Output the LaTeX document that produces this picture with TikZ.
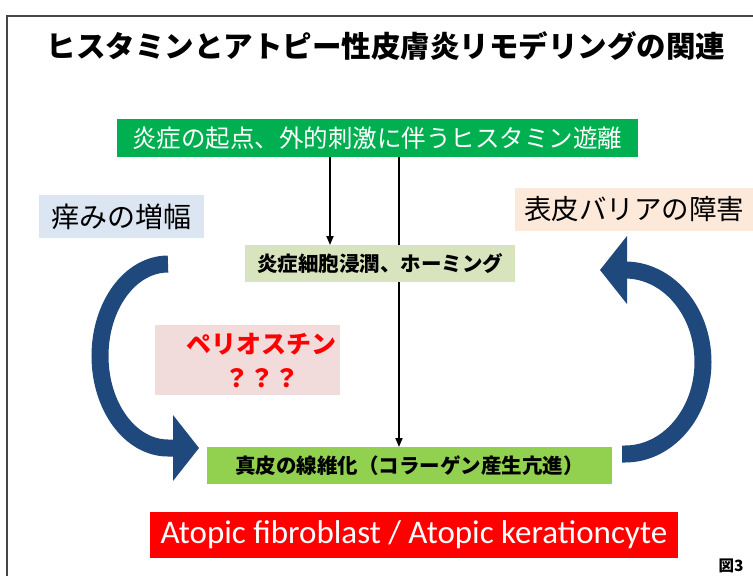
\documentclass[tikz,border=0pt]{standalone}
\usepackage{fontspec}
\setmainfont{Noto Sans CJK JP}
\newfontfamily\latinfont{Carlito}
\usetikzlibrary{arrows.meta,calc}
\definecolor{topgreen}{HTML}{00B050}
\definecolor{midgreen}{HTML}{D7E4BD}
\definecolor{botgreen}{HTML}{92D050}
\definecolor{lblue}{HTML}{DCE6F2}
\definecolor{lpeach}{HTML}{FDE9D9}
\definecolor{lpink}{HTML}{F2DCDB}
\definecolor{navy}{RGB}{31,73,125}
\definecolor{framegray}{RGB}{70,70,70}
\tikzset{
  box/.style={inner sep=0pt, outer sep=0pt, draw=none, align=center},
  conn/.style={black, line width=1.8pt, -{Triangle[length=9pt,width=7pt]}},
  band/.style={navy, line width=17pt, line cap=butt},
  head/.style={fill=navy, draw=none}
}
\begin{document}
\begin{tikzpicture}[x=1pt,y=-1pt]
\useasboundingbox (0,0) rectangle (753,576);
\fill[white] (0,0) rectangle (753,576);
% frame
\draw[framegray, line width=1.3pt] (7,577) -- (7,16) -- (754,16);

% title
\node[box, font=\fontsize{29.5}{32}\selectfont\bfseries] (title) at (386,46) {ヒスタミンとアトピー性皮膚炎リモデリングの関連};

% top green box
\node[box, fill=topgreen, text=white, minimum width=521pt, minimum height=38pt,
      font=\fontsize{24.5}{28}\selectfont] (top) at (377,138) {炎症の起点、外的刺激に伴うヒスタミン遊離};

% middle boxes
\node[box, fill=midgreen, minimum width=270pt, minimum height=37pt,
      font=\fontsize{20.5}{24}\selectfont\bfseries] (mid) at (380,263.5) {炎症細胞浸潤、ホーミング};
\node[box, fill=botgreen, minimum width=405pt, minimum height=37pt,
      font=\fontsize{20.5}{24}\selectfont\bfseries] (bot) at (409.5,465.5) {真皮の線維化（コラーゲン産生亢進）};

% connectors
\coordinate (lx) at (330,0);
\coordinate (rx) at (399,0);
\draw[conn] (top.south -| rx) -- (bot.north -| rx);
\node[box, fill=midgreen, minimum width=270pt, minimum height=37pt,
      font=\fontsize{20.5}{24}\selectfont\bfseries] at (mid) {炎症細胞浸潤、ホーミング};
\draw[conn] (top.south -| lx) -- (mid.north -| lx);

% side labels
\node[box, fill=lblue, minimum width=165pt, minimum height=43pt,
      font=\fontsize{28}{32}\selectfont] (itch) at (121.5,216.5) {痒みの増幅};
\node[box, fill=lpeach, minimum width=238pt, minimum height=43pt,
      font=\fontsize{27.5}{32}\selectfont] (barrier) at (634,209.5) {表皮バリアの障害};

% periostin
\node[box, fill=lpink, minimum width=185pt, minimum height=70pt] (peri) at (247.5,360) {};
\node[box, text=red, font=\fontsize{25}{34}\selectfont\bfseries] (peritext) at ($(peri.center)+(14,0)$) {ペリオスチン\\？？？};

% red box
\node[box, fill=red, text=white, minimum width=528pt, minimum height=46pt,
      font=\latinfont\fontsize{33}{36}\selectfont] (atopic) at (414,535) {Atopic fibroblast / Atopic kerationcyte};

% figure label
\node[box, font=\fontsize{15.5}{17}\selectfont\bfseries] (fig) at (731,566) {図3};

% left curved arrow
\draw[band] (168,264) arc[start angle=270, end angle=90, x radius=68, y radius=92] -- (174,448);
\fill[head] (173,415) -- (199,448) -- (173,481) -- cycle;

% right curved arrow
\draw[band] (622,454) -- (625,454) arc[start angle=90, end angle=-90, x radius=78, y radius=92] -- (627,270);
\fill[head] (627,236) -- (600,270) -- (627,304) -- cycle;
\end{tikzpicture}
\end{document}
